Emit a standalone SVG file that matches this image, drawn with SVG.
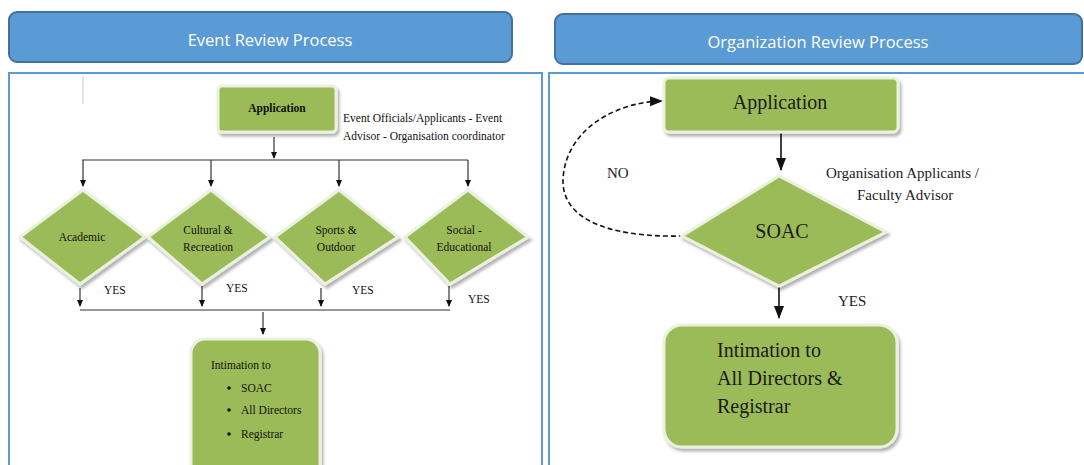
<svg xmlns="http://www.w3.org/2000/svg" width="1084" height="465" viewBox="0 0 1084 465">
<defs>
<style>
.hdr{fill:#5b9bd5;stroke:#41719c;stroke-width:2}
.hdrt{font-family:"Open Sans","Liberation Sans",sans-serif;font-size:16.5px;fill:#ffffff;text-anchor:middle}
.panel{fill:#ffffff;stroke:#5b9bd5;stroke-width:2}
.gbox{fill:#9bbb59;stroke:#eaf1dd;stroke-width:3}
.sm{font-family:"Liberation Serif",serif;font-size:11.5px;fill:#111}
.smc{font-family:"Liberation Serif",serif;font-size:11.5px;fill:#111;text-anchor:middle}
.big{font-family:"Liberation Serif",serif;font-size:20px;fill:#1a1a1a}
.bigc{font-family:"Liberation Serif",serif;font-size:20px;fill:#1a1a1a;text-anchor:middle}
.lbl{font-family:"Liberation Serif",serif;font-size:15px;fill:#222}
.ln{stroke:#333;stroke-width:1.2;fill:none}
.lnb{stroke:#111;stroke-width:1.6;fill:none}
</style>
<marker id="ah" markerWidth="8" markerHeight="8" refX="6" refY="4" orient="auto" markerUnits="userSpaceOnUse">
<path d="M0,1 L7,4 L0,7 Z" fill="#111"/>
</marker>
<marker id="ahb" markerWidth="14" markerHeight="12" refX="12" refY="6" orient="auto" markerUnits="userSpaceOnUse">
<path d="M0,1 L13,6 L0,11 Z" fill="#111"/>
</marker>
<filter id="sh" x="-10%" y="-10%" width="125%" height="130%">
<feDropShadow dx="2" dy="3" stdDeviation="1.5" flood-color="#000" flood-opacity="0.3"/>
</filter>
</defs>

<g id="header-left">
<rect class="hdr" x="9" y="12" width="503" height="50" rx="8"/>
<text class="hdrt" x="270" y="46">Event Review Process</text>
</g>
<g id="header-right">
<rect class="hdr" x="555" y="14" width="527" height="50" rx="8"/>
<text class="hdrt" x="818" y="48">Organization Review Process</text>
</g>

<g id="panel-left"><rect class="panel" x="9" y="73" width="533" height="400"/></g>
<g id="panel-right"><rect class="panel" x="549" y="73" width="540" height="400"/></g>

<g id="connectors">
<line x1="83" y1="76" x2="83" y2="104" stroke="#ddd" stroke-width="1.5"/>
<line class="ln" x1="274" y1="137" x2="274" y2="158" marker-end="url(#ah)"/>
<line class="ln" x1="82" y1="160" x2="468" y2="160"/>
<line class="ln" x1="83" y1="160" x2="83" y2="186" marker-end="url(#ah)"/>
<line class="ln" x1="211" y1="160" x2="211" y2="186" marker-end="url(#ah)"/>
<line class="ln" x1="339" y1="160" x2="339" y2="186" marker-end="url(#ah)"/>
<line class="ln" x1="468" y1="160" x2="468" y2="186" marker-end="url(#ah)"/>
<line class="ln" x1="80" y1="288" x2="80" y2="306" marker-end="url(#ah)"/>
<line class="ln" x1="202" y1="286" x2="202" y2="306" marker-end="url(#ah)"/>
<line class="ln" x1="321" y1="288" x2="321" y2="306" marker-end="url(#ah)"/>
<line class="ln" x1="449" y1="286" x2="449" y2="306" marker-end="url(#ah)"/>
<line class="ln" x1="80" y1="310" x2="450" y2="310"/>
<line class="ln" x1="263" y1="312" x2="263" y2="334" marker-end="url(#ah)"/>
<line class="lnb" x1="781" y1="133" x2="781" y2="170" marker-end="url(#ahb)"/>
<line class="lnb" x1="779" y1="286" x2="779" y2="318" marker-end="url(#ahb)"/>
<path class="lnb" d="M684,236 C600,238 562,215 563,180 C565,130 615,102 662,101" stroke-dasharray="5,3" marker-end="url(#ahb)"/>
</g>

<g id="app-left">
<rect class="gbox" x="218" y="86" width="118" height="46" rx="4" filter="url(#sh)"/>
<text class="smc" x="277" y="112" font-size="12.5" font-weight="bold">Application</text>
</g>
<g id="note-left">
<text class="sm" x="343" y="122">Event Officials/Applicants - Event</text>
<text class="sm" x="343" y="140">Advisor - Organisation coordinator</text>
</g>

<g id="d-academic">
<polygon class="gbox" points="83,190 145,237 80,284 20,237" filter="url(#sh)"/>
<text class="smc" x="82" y="241">Academic</text>
</g>
<g id="d-cultural">
<polygon class="gbox" points="211,190 270,237 202,284 148,237" filter="url(#sh)"/>
<text class="smc" x="208" y="234">Cultural &amp;</text>
<text class="smc" x="208" y="251">Recreation</text>
</g>
<g id="d-sports">
<polygon class="gbox" points="339,190 398,237 325,284 275,237" filter="url(#sh)"/>
<text class="smc" x="336" y="234">Sports &amp;</text>
<text class="smc" x="336" y="251">Outdoor</text>
</g>
<g id="d-social">
<polygon class="gbox" points="468,190 528,237 450,284 405,237" filter="url(#sh)"/>
<text class="smc" x="464" y="234">Social -</text>
<text class="smc" x="464" y="251">Educational</text>
</g>
<g id="yes-left">
<text class="sm" x="104" y="294" font-size="9">YES</text>
<text class="sm" x="226" y="292" font-size="9">YES</text>
<text class="sm" x="352" y="294" font-size="9">YES</text>
<text class="sm" x="468" y="303" font-size="9">YES</text>
</g>
<g id="intimation-left">
<rect class="gbox" x="191" y="339" width="129" height="140" rx="14" filter="url(#sh)"/>
<text class="sm" x="211" y="369" font-size="12">Intimation to</text>
<circle cx="229" cy="388" r="1.8" fill="#111"/>
<text class="sm" x="241" y="392" font-size="12">SOAC</text>
<circle cx="229" cy="410" r="1.8" fill="#111"/>
<text class="sm" x="241" y="414" font-size="12">All Directors</text>
<circle cx="229" cy="434" r="1.8" fill="#111"/>
<text class="sm" x="241" y="438" font-size="12">Registrar</text>
</g>

<g id="app-right">
<rect class="gbox" x="664" y="78" width="234" height="54" rx="5" filter="url(#sh)"/>
<text class="bigc" x="780" y="109">Application</text>
</g>
<g id="soac">
<polygon class="gbox" points="779,176 886,232 779,286 682,236" filter="url(#sh)"/>
<text class="bigc" x="782" y="238" font-size="22">SOAC</text>
</g>
<g id="labels-right">
<text class="lbl" x="607" y="178">NO</text>
<text class="lbl" x="838" y="306">YES</text>
<text class="lbl" x="826" y="178" font-size="16">Organisation Applicants /</text>
<text class="lbl" x="857" y="200" font-size="16">Faculty Advisor</text>
</g>
<g id="intimation-right">
<rect class="gbox" x="664" y="325" width="233" height="122" rx="18" filter="url(#sh)"/>
<text class="big" x="717" y="357">Intimation to</text>
<text class="big" x="717" y="385">All Directors &amp;</text>
<text class="big" x="717" y="413">Registrar</text>
</g>
</svg>
